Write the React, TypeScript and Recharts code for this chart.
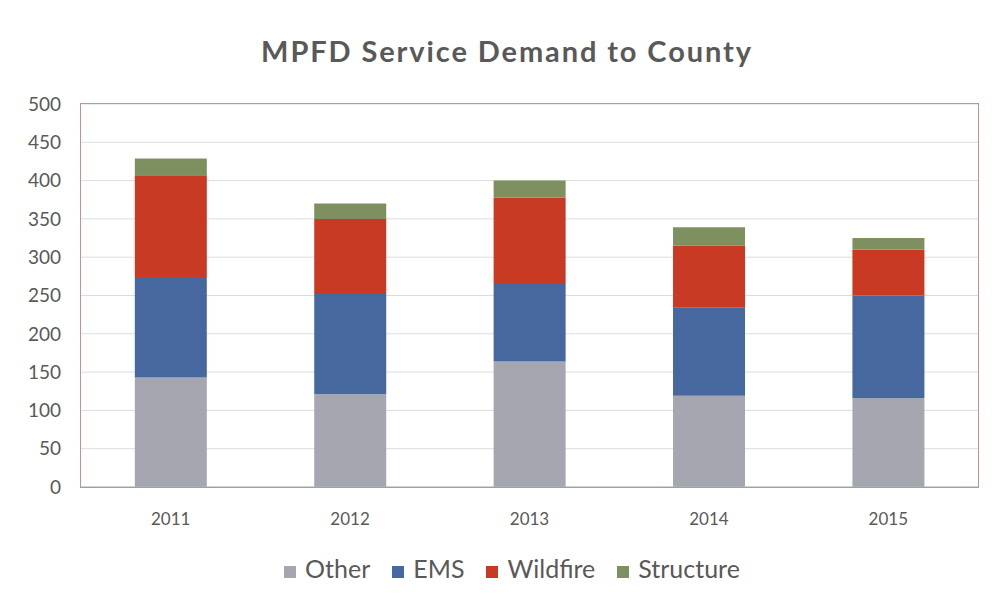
import { FC } from "react";
import {
   BarChart,
   Bar,
   XAxis,
   YAxis,
   CartesianGrid,
   Legend,
} from "recharts";

// values, bottom to top of each stack
const years = ["2011", "2012", "2013", "2014", "2015"];
const other = [143, 121, 164, 119, 116];
const ems = [131, 131, 101, 115, 134];
const wildfire = [133, 98, 113, 81, 60];
const structure = [22, 20, 22, 24, 15];
const yTicks = [0, 50, 100, 150, 200, 250, 300, 350, 400, 450, 500];
const seriesOrder = ["Other", "EMS", "Wildfire", "Structure"];

const data = years.map((year, i) => ({
   year,
   Other: other[i],
   EMS: ems[i],
   Wildfire: wildfire[i],
   Structure: structure[i],
}));

const font = "Lato, 'Open Sans', sans-serif";
const textColor = "#595959";

const App: FC = () => {
   return (
      <div
         style={{
            position: "fixed",
            top: 0,
            left: 0,
            width: 997,
            height: 608,
            background: "#ffffff",
            fontFamily: font,
         }}
      >
         <div
            style={{
               position: "absolute",
               top: 33,
               left: 0,
               width: 1014,
               textAlign: "center",
               fontSize: 29,
               fontWeight: "bold",
               letterSpacing: 1.9,
               color: textColor,
            }}
         >
            MPFD Service Demand to County
         </div>
         <BarChart
            width={997}
            height={608}
            data={data}
            margin={{ top: 104, right: 19, bottom: 61, left: 0 }}
            barCategoryGap="30%"
         >
            <CartesianGrid vertical={false} stroke="#dcdcdc" />
            <XAxis
               dataKey="year"
               axisLine={{ stroke: "#b8b8b8" }}
               tickLine={false}
               tickMargin={20}
               tick={{ fill: textColor, fontSize: 17, fontFamily: font }}
            />
            <YAxis
               width={81}
               domain={[0, 500]}
               ticks={yTicks}
               axisLine={false}
               tickLine={false}
               tickMargin={14}
               tick={{ fill: textColor, fontSize: 19, fontFamily: font }}
            />
            <Legend
               verticalAlign="bottom"
               iconType="square"
               iconSize={12}
               itemSorter={(item) => seriesOrder.indexOf(String(item.value))}
               wrapperStyle={{
                  top: 553,
                  left: 34,
                  fontSize: 25,
                  fontFamily: font,
                  color: textColor,
               }}
               formatter={(value) => (
                  <span style={{ color: textColor, marginLeft: 5, paddingRight: 12 }}>
                     {value}
                  </span>
               )}
            />
            <Bar dataKey="Other" stackId="a" fill="#a6a6b0" isAnimationActive={false} />
            <Bar dataKey="EMS" stackId="a" fill="#47679f" isAnimationActive={false} />
            <Bar dataKey="Wildfire" stackId="a" fill="#c93a25" isAnimationActive={false} />
            <Bar dataKey="Structure" stackId="a" fill="#7e9060" isAnimationActive={false} />
         </BarChart>
         <div
            style={{
               position: "absolute",
               top: 103,
               left: 80,
               width: 897,
               height: 383,
               border: "1.5px solid #c0938d",
               pointerEvents: "none",
            }}
         />
      </div>
   );
};

export default App;
